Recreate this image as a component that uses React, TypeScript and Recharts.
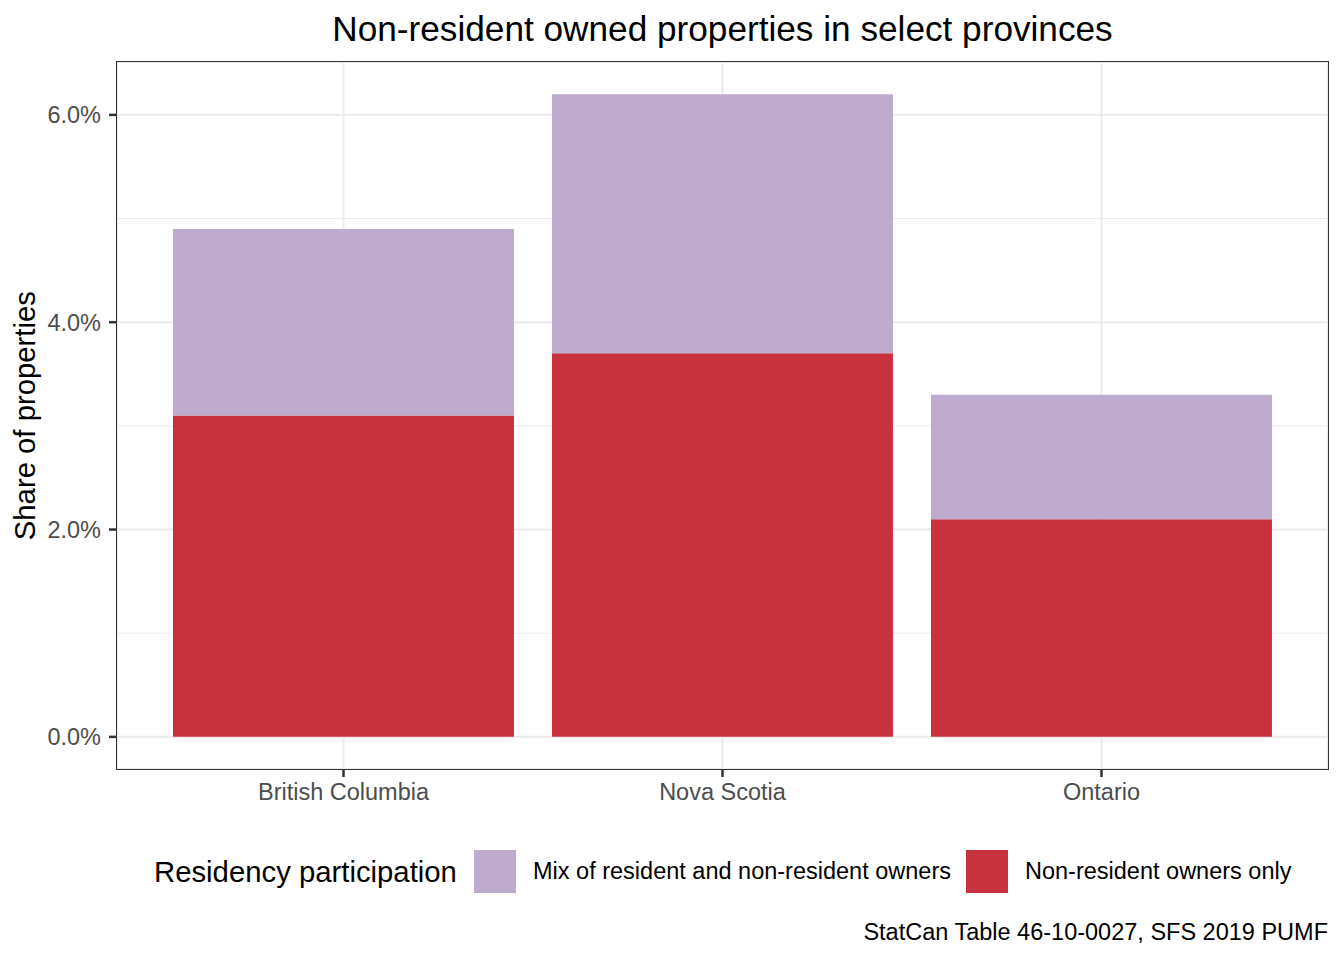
import React from 'react';
import { BarChart, Bar, XAxis, YAxis, CartesianGrid } from 'recharts';

const provinces = ['British Columbia', 'Nova Scotia', 'Ontario'];
const nonResidentOnly = [3.1, 3.7, 2.1];
const mixedOwners = [1.8, 2.5, 1.2];
const yTicks = [0, 2, 4, 6];
const yMinorTicks = [1, 3, 5];

const series = [
  { key: 'nonResident', name: 'Non-resident owners only', color: '#C8313E', values: nonResidentOnly },
  { key: 'mixed', name: 'Mix of resident and non-resident owners', color: '#BEABCE', values: mixedOwners },
];

// legend order in the reference: mix first, then non-resident
const legendItems = [series[1], series[0]];

const chartData = provinces.map((name, i) => ({
  name,
  nonResident: nonResidentOnly[i],
  mixed: mixedOwners[i],
}));

const FONT = '"Liberation Sans", Arial, Helvetica, sans-serif';

const PANEL = { left: 117, top: 62, right: 1328, bottom: 769 };

export default function App() {
  return (
    <div
      style={{
        position: 'absolute',
        left: 0,
        top: 0,
        width: 1344,
        height: 960,
        background: '#fff',
        fontFamily: FONT,
        color: '#000',
      }}
    >
      <div
        style={{
          position: 'absolute',
          left: PANEL.left,
          width: PANEL.right - PANEL.left,
          top: 11,
          fontSize: 35.2,
          lineHeight: 1,
          textAlign: 'center',
          whiteSpace: 'nowrap',
        }}
      >
        Non-resident owned properties in select provinces
      </div>

      <BarChart
        width={1344}
        height={960}
        data={chartData}
        margin={{ top: PANEL.top, right: 1344 - PANEL.right, bottom: 960 - PANEL.bottom - 40, left: 0 }}
        barCategoryGap="5%"
        style={{ fontFamily: FONT }}
      >
        <CartesianGrid horizontalValues={yMinorTicks} vertical={false} stroke="#EBEBEB" strokeWidth={1} />
        <CartesianGrid stroke="#EBEBEB" strokeWidth={2} />
        <XAxis
          dataKey="name"
          type="category"
          height={40}
          padding={{ left: 37, right: 37 }}
          axisLine={false}
          tickLine={{ stroke: '#333333', strokeWidth: 2.5 }}
          tickSize={8}
          tickMargin={6}
          tick={{ fill: '#4D4D4D', fontSize: 23.5 }}
        />
        <YAxis
          type="number"
          width={PANEL.left}
          domain={[-0.31, 6.51]}
          ticks={yTicks}
          allowDataOverflow
          axisLine={false}
          tickLine={{ stroke: '#333333', strokeWidth: 2.5 }}
          tickSize={8}
          tickMargin={8}
          tick={{ fill: '#4D4D4D', fontSize: 23.5 }}
          tickFormatter={(v: number) => `${v.toFixed(1)}%`}
        />
        {series.map((s) => (
          <Bar key={s.key} dataKey={s.key} name={s.name} stackId="a" fill={s.color} isAnimationActive={false} />
        ))}
      </BarChart>

      {/* panel border */}
      <div
        style={{
          position: 'absolute',
          left: PANEL.left - 0.75,
          top: PANEL.top - 0.75,
          width: PANEL.right - PANEL.left + 1.5,
          height: PANEL.bottom - PANEL.top + 1.5,
          border: '1.5px solid #333333',
          boxSizing: 'border-box',
          pointerEvents: 'none',
        }}
      />

      {/* y axis title */}
      <div
        style={{
          position: 'absolute',
          left: 24.85 - 200,
          top: (PANEL.top + PANEL.bottom) / 2 - 14.65,
          width: 400,
          fontSize: 29.3,
          lineHeight: 1,
          textAlign: 'center',
          transform: 'rotate(-90deg)',
          whiteSpace: 'nowrap',
        }}
      >
        Share of properties
      </div>

      {/* legend */}
      <div style={{ position: 'absolute', left: 154, top: 857, fontSize: 29.3, lineHeight: 1, whiteSpace: 'nowrap' }}>
        Residency participation
      </div>
      {legendItems.map((s, i) => {
        const boxLeft = i === 0 ? 474 : 966;
        return (
          <React.Fragment key={s.key}>
            <div
              style={{ position: 'absolute', left: boxLeft, top: 850, width: 42, height: 43, background: s.color }}
            />
            <div
              style={{
                position: 'absolute',
                left: boxLeft + 59,
                top: 860,
                fontSize: 23.5,
                lineHeight: 1,
                whiteSpace: 'nowrap',
              }}
            >
              {s.name}
            </div>
          </React.Fragment>
        );
      })}

      {/* caption */}
      <div
        style={{
          position: 'absolute',
          right: 1344 - 1328,
          top: 921,
          fontSize: 23.5,
          lineHeight: 1,
          whiteSpace: 'nowrap',
        }}
      >
        StatCan Table 46-10-0027, SFS 2019 PUMF
      </div>
    </div>
  );
}
